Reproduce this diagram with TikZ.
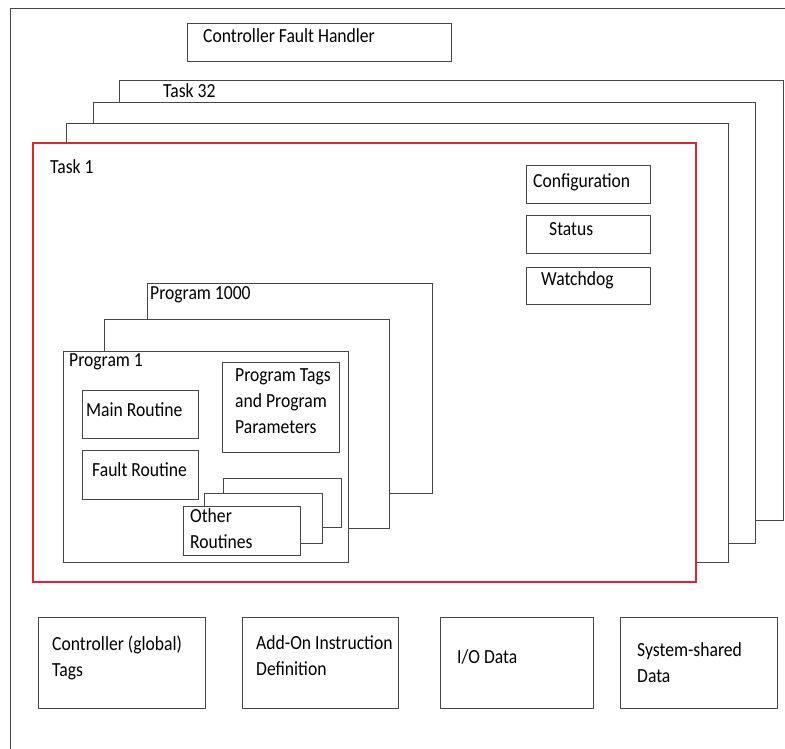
\documentclass[tikz,border=0pt]{standalone}
\usepackage{fontspec}
\setmainfont{Carlito}[FakeStretch=0.88]
\usepackage{xcolor}
\usepackage{tikz}
\usetikzlibrary{positioning}

\definecolor{taskred}{RGB}{218,38,44}
\definecolor{edgegrey}{RGB}{70,70,70}

\begin{document}
\begin{tikzpicture}[x=1pt, y=-1pt,
        every node/.style={inner sep=0pt, font=\fontsize{20}{26}\selectfont},
        frame/.style={draw=edgegrey, line width=0.8pt, fill=white},
        redframe/.style={draw=taskred, line width=1.4pt, fill=white},
        lbl/.style={anchor=west, align=left}]
        \useasboundingbox (0,0) rectangle (785,749);

        % outer frame: only top and left edges
        \coordinate (tl) at (10,8);
        \coordinate (tr) at (785,8);
        \coordinate (bl) at (10,749);
        \draw[edgegrey, line width=0.8pt] (tr) -- (tl) -- (bl);

        \draw[frame] (187,23) rectangle (451,61);
        \node[lbl] (cfh) at (203,36) {Controller Fault Handler};

        % task stack
        \draw[frame] (119,80) rectangle (783,520);
        \node[lbl] (t32) at (163,91) {Task 32};
        \draw[frame] (93,102) rectangle (755,543);
        \draw[frame] (66,123) rectangle (728,562);
        \draw[redframe] (33,143) rectangle (696,582);
        \node[lbl] (t1) at (50,167) {Task 1};

        % task items
        \draw[frame] (526,165) rectangle (650,203);
        \node[lbl] (cfg) at (533,182) {Configuration};
        \draw[frame] (526,215) rectangle (650,253);
        \node[lbl] (sts) at (549,229) {Status};
        \draw[frame] (526,267) rectangle (650,304);
        \node[lbl] (wdg) at (541,280) {Watchdog};

        % program stack
        \draw[frame] (147,283) rectangle (432,493);
        \node[lbl] (p1000) at (150,295) {Program 1000};
        \draw[frame] (104,319) rectangle (389,528);
        \draw[frame] (63,351) rectangle (348,562);
        \node[lbl] (p1) at (69,362) {Program 1};

        \draw[frame] (82,390) rectangle (198,438);
        \node[lbl] (main) at (86,410) {Main Routine};
        \draw[frame] (82,450) rectangle (198,499);
        \node[lbl] (fault) at (92,470) {Fault Routine};
        \draw[frame] (222,362) rectangle (339,452);
        \node[lbl] (ptags) at (235,401) {Program Tags\\and Program\\Parameters};

        \draw[frame] (223,478) rectangle (341,527);
        \draw[frame] (204,493) rectangle (322,543);
        \draw[frame] (183,506) rectangle (300,555);
        \node[lbl] (other) at (190,529) {Other\\Routines};

        % data blocks
        \draw[frame] (38,617) rectangle (205,708);
        \node[lbl] (ctags) at (52,658) {Controller (global)\\Tags};
        \draw[frame] (242,617) rectangle (398,708);
        \node[lbl] (aoi) at (256,656) {Add-On Instruction\\Definition};
        \draw[frame] (440,617) rectangle (593,708);
        \node[lbl] (io) at (457,657) {I/O Data};
        \draw[frame] (620,617) rectangle (777,708);
        \node[lbl] (sys) at (637,663) {System-shared\\Data};
\end{tikzpicture}
\end{document}
